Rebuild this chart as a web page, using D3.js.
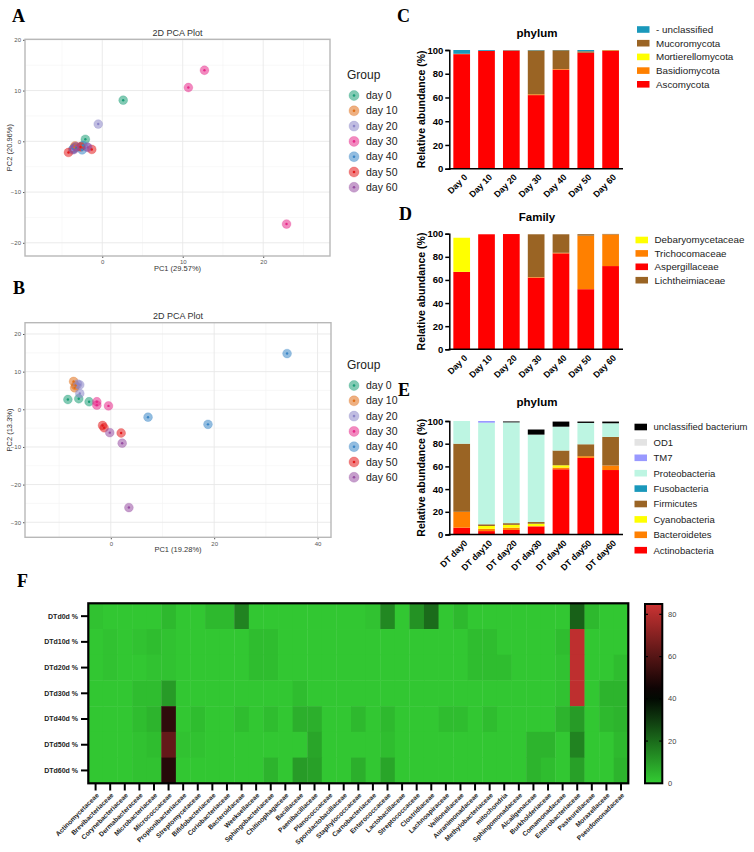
<!DOCTYPE html>
<html><head><meta charset="utf-8">
<script src="https://cdn.jsdelivr.net/npm/d3@7"></script>
<style>body{margin:0;background:#fff}svg{display:block}text{font-family:"Liberation Sans",Arial,sans-serif}</style>
</head><body><svg id="c" width="754" height="852"></svg>
<script>
// ---------------- DATA ----------------
const groups = ["day 0","day 10","day 20","day 30","day 40","day 50","day 60"];
const groupColors = ["#1b9e77","#e0701a","#8c86c8","#e7298a","#3b86c6","#e41a1c","#984ea3"];

const pcaA_group = ["day 0","day 0","day 0","day 10","day 10","day 10","day 20","day 20","day 20","day 30","day 30","day 30","day 40","day 40","day 40","day 50","day 50","day 50","day 60","day 60","day 60"];
const pcaA_pc1 = [2.6,-2.1,-3.3,-3.4,-3.5,-2.6,-0.5,-3.7,-1.9,12.7,10.7,22.9,-2.5,-2.4,-3.6,-4.2,-2.7,-1.3,-3.5,-1.8,-3.3];
const pcaA_pc2 = [8.1,0.4,-1.2,-0.9,-1.3,-1.0,3.4,-1.7,-1.1,14.0,10.6,-16.3,-1.7,-0.8,-1.5,-2.2,-1.1,-1.6,-1.6,-1.2,-1.0];

const pcaB_group = pcaA_group.slice();
const pcaB_pc1 = [-8.3,-6.2,-4.2,-7.2,-7.0,-6.8,-6.4,-6.0,-6.0,-2.7,-2.7,-0.45,34.1,7.2,18.8,-1.6,-1.3,2.0,-0.2,2.2,3.5];
const pcaB_pc2 = [2.6,2.8,2.0,7.4,5.7,6.3,6.7,6.5,4.2,2.0,1.1,0.9,14.8,-2.1,-4.0,-4.3,-4.9,-6.3,-6.2,-9.0,-26.1];

const dayCats = ["Day 0","Day 10","Day 20","Day 30","Day 40","Day 50","Day 60"];
const yTicksPct = [0,20,40,60,80,100];

// C: fungal phylum
const cAscomycota = [96.5,99.3,99.5,62,83.5,97.7,99.2];
const cBasidiomycota = [0.3,0,0,0.7,0.5,0,0.5];
const cMortierellomycota = [0,0,0,0,0,0,0];
const cMucoromycota = [0,0,0.3,37,15.8,1.2,0.3];
const cUnclassified = [3.2,0.7,0.2,0.3,0.2,1.1,0];

// D: fungal family
const dAspergillaceae = [67,99.5,99.7,62,83,52,72];
const dTrichocomaceae = [0,0,0,0.5,0.5,46.3,27.3];
const dLichtheimiaceae = [0,0,0,37,16,1.3,0.5];
const dDebaryomycetaceae = [29.5,0,0,0,0,0,0];

// E: bacterial phylum
const eCats = ["DT day0","DT day10","DT day20","DT day30","DT day40","DT day50","DT day60"];
const eActinobacteria = [6,3,4,7,57.5,67.5,56.8];
const eBacteroidetes = [14,2,2,0.5,1.5,1.5,4];
const eCyanobacteria = [0,2.5,2.5,2,2,0,0];
const eFirmicutes = [60,1.5,1.5,1.5,13,10.5,25.2];
const eFusobacteria = [0,0,0,0,0,0,0];
const eProteobacteria = [20,89.5,88.8,77,21,18.8,12];
const eTM7 = [0,1.5,0,0,0,0,0];
const eOD1 = [0,0,0,0,0,0,0];
const eUnclassified = [0,0,0.8,4.5,4.5,1.2,1.5];

// F: heatmap
const hmRows = ["DTd0d %","DTd10d %","DTd20d %","DTd30d %","DTd40d %","DTd50d %","DTd60d %"];
const hmCols = ["Actinomycetaceae","Brevibacteriaceae","Corynebacteriaceae","Dermabacteraceae","Microbacteriaceae","Micrococcaceae","Propionibacteriaceae","Streptomycetaceae","Bifidobacteriaceae","Coriobacteriaceae","Bacteroidaceae","Weeksellaceae","Sphingobacteriaceae","Chitinophagaceae","Bacillaceae","Paenibacillaceae","Planococcaceae","Sporolactobacillaceae","Staphylococcaceae","Carnobacteriaceae","Enterococcaceae","Lactobacillaceae","Streptococcaceae","Clostridiaceae","Lachnospiraceae","Veillonellaceae","Auranimonadaceae","Methylobacteriaceae","mitochondria","Sphingomonadaceae","Alcaligenaceae","Burkholderiaceae","Comamonadaceae","Enterobacteriaceae","Pasteurellaceae","Moraxellaceae","Pseudomonadaceae"];
const hm_d0  = [2,1,1,1,1,4,1,1,4,4,15,1,1,1,1,1,1,1,1,2,14,1,12,20,1,4,1,1,1,1,1,1,1,22,4,1,1];
const hm_d10 = [1,2,1,2,3,2,1,1,1,1,1,3,3,1,1,1,1,1,1,1,1,1,1,1,1,1,3,3,1,1,1,1,3,82,1,1,1];
const hm_d20 = [1,2,1,1,2,2,1,1,1,1,1,3,3,1,1,1,1,1,1,1,1,1,1,1,1,1,3,3,3,1,1,1,2,82,1,1,3];
const hm_d30 = [1,1,1,3,3,10,1,1,1,1,1,1,1,1,3,1,1,1,1,1,1,1,1,1,1,1,1,1,1,1,1,1,2,82,1,5,5];
const hm_d40 = [1,1,1,3,5,52,1,3,1,1,3,1,3,1,6,6,1,1,4,1,4,1,1,1,3,3,1,3,1,1,1,1,5,10,1,4,5];
const hm_d50 = [1,1,1,2,3,63,2,2,1,1,1,1,1,1,1,8,1,1,1,1,3,1,1,1,1,1,1,1,1,1,5,5,1,15,1,1,4];
const hm_d60 = [1,1,1,2,2,50,1,1,1,1,1,1,5,1,10,9,1,1,6,1,8,1,1,1,1,1,1,1,1,1,5,3,1,9,1,1,5];
const cbTicks = [0,20,40,60,80];

// ---------------- DRAW ----------------
const svg = d3.select("#c");

function panelLetter(t, x, y){
  svg.append("text").attr("x",x).attr("y",y).text(t)
    .style("font-family","'Liberation Serif','Times New Roman',serif")
    .style("font-weight","bold").style("font-size","18px").attr("fill","#000");
}

function drawPCA(o){
  const g = svg.append("g");
  const x = d3.scaleLinear().domain(o.xDomain).range([o.left,o.right]);
  const y = d3.scaleLinear().domain(o.yDomain).range([o.bottom,o.top]);
  g.append("rect").attr("x",o.left).attr("y",o.top).attr("width",o.right-o.left).attr("height",o.bottom-o.top).attr("fill","#fff");
  o.xMinor.forEach(v=>g.append("line").attr("x1",x(v)).attr("x2",x(v)).attr("y1",o.top).attr("y2",o.bottom).attr("stroke","#f3f3f3").attr("stroke-width",0.6));
  o.yMinor.forEach(v=>g.append("line").attr("y1",y(v)).attr("y2",y(v)).attr("x1",o.left).attr("x2",o.right).attr("stroke","#f3f3f3").attr("stroke-width",0.6));
  o.xMajor.forEach(v=>g.append("line").attr("x1",x(v)).attr("x2",x(v)).attr("y1",o.top).attr("y2",o.bottom).attr("stroke","#e8e8e8").attr("stroke-width",0.9));
  o.yMajor.forEach(v=>g.append("line").attr("y1",y(v)).attr("y2",y(v)).attr("x1",o.left).attr("x2",o.right).attr("stroke","#e8e8e8").attr("stroke-width",0.9));
  const ax = g.append("g").attr("transform",`translate(0,${o.bottom})`).call(d3.axisBottom(x).tickValues(o.xMajor).tickSize(2).tickPadding(2));
  const ay = g.append("g").attr("transform",`translate(${o.left},0)`).call(d3.axisLeft(y).tickValues(o.yMajor).tickSize(2).tickPadding(2));
  [ax,ay].forEach(a=>{a.select(".domain").remove();a.selectAll("line").attr("stroke","#555");a.selectAll("text").style("font-size","6px").attr("fill","#555");});
  g.append("rect").attr("x",o.left).attr("y",o.top).attr("width",o.right-o.left).attr("height",o.bottom-o.top).attr("fill","none").attr("stroke","#b8b8b8").attr("stroke-width",1.4);
  const col = d3.scaleOrdinal().domain(groups).range(groupColors);
  const pts = o.group.map((gr,i)=>({g:gr,x:o.pc1[i],y:o.pc2[i]}));
  const pg = g.append("g");
  pts.forEach(p=>{
    pg.append("circle").attr("cx",x(p.x)).attr("cy",y(p.y)).attr("r",4.4).attr("fill",col(p.g)).attr("fill-opacity",0.55).attr("stroke",col(p.g)).attr("stroke-opacity",0.25).attr("stroke-width",1);
  });
  pts.forEach(p=>{
    pg.append("circle").attr("cx",x(p.x)).attr("cy",y(p.y)).attr("r",1.2).attr("fill",col(p.g));
  });
  g.append("text").attr("x",(o.left+o.right)/2).attr("y",o.titleY).attr("text-anchor","middle").style("font-size","9px").attr("fill","#333").text("2D PCA Plot");
  g.append("text").attr("x",(o.left+o.right)/2).attr("y",o.bottom+15).attr("text-anchor","middle").style("font-size","7.5px").attr("fill","#333").text(o.xlab);
  g.append("text").attr("transform",`translate(12,${(o.top+o.bottom)/2}) rotate(-90)`).attr("text-anchor","middle").style("font-size","7.5px").attr("fill","#333").text(o.ylab);
  // legend
  g.append("text").attr("x",347).attr("y",o.legY).style("font-size","12px").attr("fill","#222").text("Group");
  groups.forEach((gr,i)=>{
    const yy = o.legY + 16.5 + i*15.3;
    g.append("circle").attr("cx",354).attr("cy",yy).attr("r",5).attr("fill",col(gr)).attr("fill-opacity",0.55).attr("stroke",col(gr)).attr("stroke-opacity",0.25);
    g.append("circle").attr("cx",354).attr("cy",yy).attr("r",1.3).attr("fill",col(gr));
    g.append("text").attr("x",366).attr("y",yy).attr("dy","0.35em").style("font-size","10.5px").attr("fill","#222").text(gr);
  });
}

panelLetter("A",12,22);
drawPCA({left:25,right:330,top:39.3,bottom:256,xDomain:[-9.6,28.3],yDomain:[-22.6,20.1],
  xMajor:[0,10,20],xMinor:[-5,5,15,25],yMajor:[-20,-10,0,10,20],yMinor:[-15,-5,5,15],
  group:pcaA_group,pc1:pcaA_pc1,pc2:pcaA_pc2,titleY:36,xlab:"PC1 (29.57%)",ylab:"PC2 (20.96%)",legY:79});
panelLetter("B",13,294);
drawPCA({left:25,right:331,top:322.7,bottom:537.3,xDomain:[-16.6,42.6],yDomain:[-34.0,23.0],
  xMajor:[0,20,40],xMinor:[-10,10,30],yMajor:[-30,-20,-10,0,10,20],yMinor:[-25,-15,-5,5,15],
  group:pcaB_group,pc1:pcaB_pc1,pc2:pcaB_pc2,titleY:319,xlab:"PC1 (19.28%)",ylab:"PC2 (13.3%)",legY:369});

function drawBars(o){
  const g = svg.append("g");
  const x = d3.scaleBand().domain(o.cats).range([449.3,623]).paddingInner(0.327).paddingOuter(0.163);
  const y = d3.scaleLinear().domain([0,100]).range([o.yb,o.yt]);
  const rows = o.cats.map((c,i)=>{const r={cat:c};o.series.forEach(s=>r[s.name]=s.vals[i]);return r;});
  const st = d3.stack().keys(o.series.map(s=>s.name))(rows);
  st.forEach((layer,k)=>{
    g.selectAll(null).data(layer).enter().append("rect")
      .attr("x",d=>x(d.data.cat)).attr("width",x.bandwidth())
      .attr("y",d=>y(d[1])).attr("height",d=>Math.max(0,y(d[0])-y(d[1])))
      .attr("fill",o.series[k].color);
  });
  const ay = g.append("g").attr("transform","translate(449.3,0)").call(d3.axisLeft(y).tickValues(yTicksPct).tickSize(4).tickPadding(2));
  ay.select(".domain").attr("stroke","#000").attr("stroke-width",1.5);
  ay.selectAll("line").attr("stroke","#000").attr("stroke-width",1.5);
  ay.selectAll("text").style("font-size","9.5px").style("font-weight","bold").attr("fill","#000");
  g.append("line").attr("x1",448.6).attr("x2",623).attr("y1",o.yb).attr("y2",o.yb).attr("stroke","#000").attr("stroke-width",1.5);
  o.cats.forEach(c=>{
    g.append("text").attr("transform",`translate(${x(c)+x.bandwidth()/2+4},${o.yb+7}) rotate(-45)`)
      .attr("text-anchor","end").attr("dy","0.35em").style("font-size",o.xfs).style("font-weight","bold").text(c);
  });
  g.append("text").attr("x",537).attr("y",o.titleY).attr("text-anchor","middle").style("font-size","11.5px").style("font-weight","bold").text(o.title);
  g.append("text").attr("transform",`translate(425,${(o.yt+o.yb)/2}) rotate(-90)`).attr("text-anchor","middle").style("font-size","10.5px").style("font-weight","bold").text("Relative abundance (%)");
  o.legend.forEach((nm,i)=>{
    const s = o.series.find(q=>q.label===nm);
    const yy = o.legY + i*o.legStep;
    g.append("rect").attr("x",o.legX).attr("y",yy-3.3).attr("width",12.5).attr("height",6.6).attr("fill",s.color);
    g.append("text").attr("x",o.legX+19).attr("y",yy).attr("dy","0.35em").style("font-size",o.legFs).attr("fill","#222").text(nm);
  });
}

panelLetter("C",397,22);
drawBars({cats:dayCats,yt:50,yb:168.7,title:"phylum",titleY:37,xfs:"8.8px",legFs:"9.8px",
  series:[{name:"Ascomycota",label:"Ascomycota",vals:cAscomycota,color:"#ff0000"},
          {name:"Basidiomycota",label:"Basidiomycota",vals:cBasidiomycota,color:"#ff8000"},
          {name:"Mortierellomycota",label:"Mortierellomycota",vals:cMortierellomycota,color:"#ffff00"},
          {name:"Mucoromycota",label:"Mucoromycota",vals:cMucoromycota,color:"#9a6424"},
          {name:"unclassified",label:"- unclassified",vals:cUnclassified,color:"#1a98bb"}],
  legend:["- unclassified","Mucoromycota","Mortierellomycota","Basidiomycota","Ascomycota"],legX:637,legY:29.5,legStep:13.7});

panelLetter("D",399,220);
drawBars({cats:dayCats,yt:233.7,yb:349.3,title:"Family",titleY:220.5,xfs:"8.8px",legFs:"9.8px",
  series:[{name:"Aspergillaceae",label:"Aspergillaceae",vals:dAspergillaceae,color:"#ff0000"},
          {name:"Trichocomaceae",label:"Trichocomaceae",vals:dTrichocomaceae,color:"#ff8000"},
          {name:"Lichtheimiaceae",label:"Lichtheimiaceae",vals:dLichtheimiaceae,color:"#9a6424"},
          {name:"Debaryomycetaceae",label:"Debaryomycetaceae",vals:dDebaryomycetaceae,color:"#ffff00"}],
  legend:["Debaryomycetaceae","Trichocomaceae","Aspergillaceae","Lichtheimiaceae"],legX:635.5,legY:240,legStep:13.4});

panelLetter("E",398,396);
drawBars({cats:eCats,yt:421,yb:534.5,title:"phylum",titleY:406,xfs:"8.8px",legFs:"9.5px",
  series:[{name:"Actinobacteria",label:"Actinobacteria",vals:eActinobacteria,color:"#ff0000"},
          {name:"Bacteroidetes",label:"Bacteroidetes",vals:eBacteroidetes,color:"#ff8000"},
          {name:"Cyanobacteria",label:"Cyanobacteria",vals:eCyanobacteria,color:"#ffff00"},
          {name:"Firmicutes",label:"Firmicutes",vals:eFirmicutes,color:"#9a6424"},
          {name:"Fusobacteria",label:"Fusobacteria",vals:eFusobacteria,color:"#1a98bb"},
          {name:"Proteobacteria",label:"Proteobacteria",vals:eProteobacteria,color:"#bdf5e2"},
          {name:"TM7",label:"TM7",vals:eTM7,color:"#9999ff"},
          {name:"OD1",label:"OD1",vals:eOD1,color:"#e3e3e3"},
          {name:"unclassified bacterium",label:"unclassified bacterium",vals:eUnclassified,color:"#000000"}],
  legend:["unclassified bacterium","OD1","TM7","Proteobacteria","Fusobacteria","Firmicutes","Cyanobacteria","Bacteroidetes","Actinobacteria"],legX:634.5,legY:427,legStep:15.4});

// ---- Heatmap ----
panelLetter("F",17,587);
(function(){
  const g = svg.append("g");
  const hmVals = [hm_d0,hm_d10,hm_d20,hm_d30,hm_d40,hm_d50,hm_d60];
  const x = d3.scaleBand().domain(hmCols).range([88.3,628.3]);
  const y = d3.scaleBand().domain(hmRows).range([603.3,783.3]);
  const color = d3.scaleLinear().domain([0,42,85]).range(["#33cc33","#000000","#cc3333"]).clamp(true);
  hmRows.forEach((r,i)=>{
    hmCols.forEach((c,j)=>{
      g.append("rect").attr("x",x(c)).attr("y",y(r)).attr("width",x.bandwidth()+0.4).attr("height",y.bandwidth()+0.4).attr("fill",color(hmVals[i][j]));
    });
  });
  g.append("rect").attr("x",88.3).attr("y",603.3).attr("width",540).attr("height",180).attr("fill","none").attr("stroke","#000").attr("stroke-width",2.2);
  hmRows.forEach(r=>{
    const yy = y(r)+y.bandwidth()/2;
    g.append("line").attr("x1",81).attr("x2",88.3).attr("y1",yy).attr("y2",yy).attr("stroke","#000").attr("stroke-width",2);
    g.append("text").attr("x",78).attr("y",yy).attr("dy","0.35em").attr("text-anchor","end").style("font-size","7px").style("font-weight","bold").attr("fill","#222").text(r);
  });
  hmCols.forEach(c=>{
    const xx = x(c)+x.bandwidth()/2;
    g.append("line").attr("x1",xx).attr("x2",xx).attr("y1",783.3).attr("y2",790.5).attr("stroke","#000").attr("stroke-width",2);
    g.append("text").attr("transform",`translate(${xx+2},${794}) rotate(-45)`).attr("text-anchor","end").attr("dy","0.35em").style("font-size","6.6px").style("font-weight","bold").attr("fill","#222").text(c);
  });
  // colorbar
  const cb = d3.scaleLinear().domain([0,84.9]).range([783.3,604]);
  const defs = svg.append("defs");
  const lg = defs.append("linearGradient").attr("id","cbg").attr("x1",0).attr("x2",0).attr("y1",1).attr("y2",0);
  d3.range(0,85.01,5).forEach(v=>lg.append("stop").attr("offset",v/84.9).attr("stop-color",color(v)));
  g.append("rect").attr("x",645).attr("y",604).attr("width",17.3).attr("height",179.3).attr("fill","url(#cbg)").attr("stroke","#000").attr("stroke-width",2);
  cbTicks.forEach(v=>{
    if(v>0){
      g.append("line").attr("x1",645).attr("x2",648).attr("y1",cb(v)).attr("y2",cb(v)).attr("stroke","#000").attr("stroke-width",1.2);
      g.append("line").attr("x1",659.3).attr("x2",662.3).attr("y1",cb(v)).attr("y2",cb(v)).attr("stroke","#000").attr("stroke-width",1.2);
    }
    g.append("text").attr("x",668).attr("y",cb(v)).attr("dy","0.35em").style("font-size","7.5px").attr("fill","#444").text(v);
  });
})();
</script></body></html>
